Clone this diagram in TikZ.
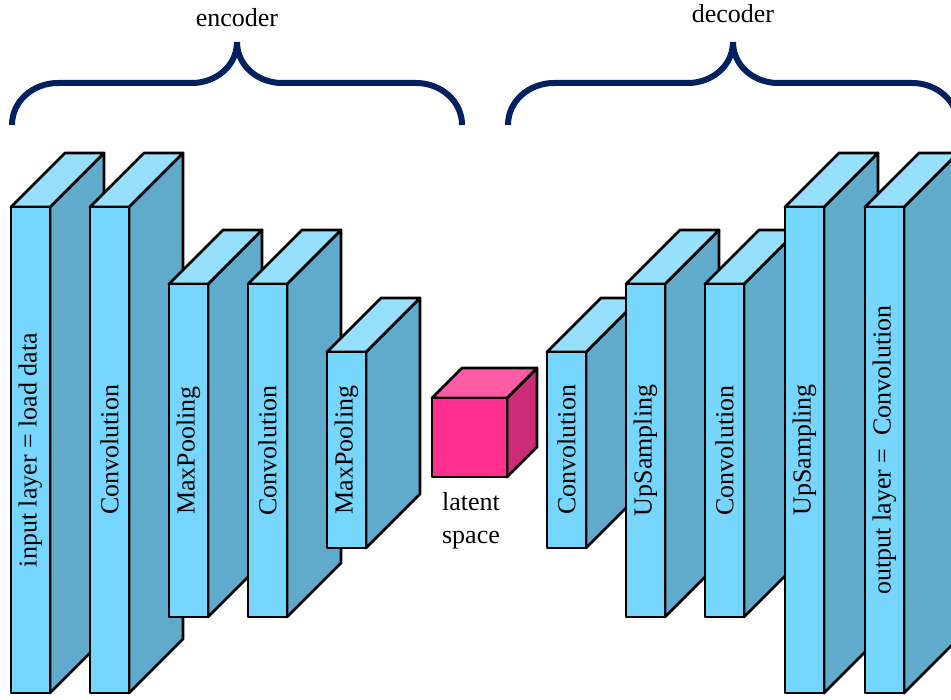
\documentclass[tikz,border=0pt]{standalone}
\usepackage{fontspec}
\setmainfont{Liberation Serif}

\definecolor{layerfront}{RGB}{118,214,253}
\definecolor{layertop}{RGB}{150,223,253}
\definecolor{layerside}{RGB}{96,170,204}
\definecolor{latentfront}{RGB}{255,48,144}
\definecolor{latenttop}{RGB}{255,92,168}
\definecolor{latentside}{RGB}{204,44,117}
\definecolor{bracecol}{RGB}{0,32,96}

\tikzstyle{face} = [draw=black, line width=2.8pt, line join=round]
\tikzstyle{brace} = [draw=bracecol, line width=6pt]
\tikzstyle{caption} = [font=\fontsize{26}{30}\selectfont, inner sep=0pt]
\tikzstyle{layertext} = [caption, rotate=90]

% one layer block: name, left x, bottom y, top y, label
\newcommand{\layerblock}[5]{
    \filldraw[face, fill=layerside] ({#2+39},#3) -- ({#2+39},#4)
        -- ({#2+93},{#4+54}) -- ({#2+93},{#3+54}) -- cycle;
    \filldraw[face, fill=layertop] (#2,#4) -- ({#2+54},{#4+54})
        -- ({#2+93},{#4+54}) -- ({#2+39},#4) -- cycle;
    \filldraw[face, fill=layerfront] (#2,#3) rectangle ({#2+39},#4);
    \node[layertext] (#1) at ({#2+19.5},{(#3+#4)/2}) {#5};
}

\begin{document}
\begin{tikzpicture}[x=1pt, y=1pt]
\clip (0,0) rectangle (951,700);

% encoder
\layerblock{in}{11}{7}{493}{input layer = load data}
\layerblock{conva}{90}{7}{493}{Convolution}
\layerblock{poola}{169}{83}{416}{MaxPooling}
\layerblock{convb}{248}{83}{416}{Convolution}
\layerblock{poolb}{327}{152}{348}{MaxPooling}

% latent space cube
\filldraw[face, fill=latentside] (507,223) -- (507,302) -- (537,332) -- (537,253) -- cycle;
\filldraw[face, fill=latenttop] (432,302) -- (462,332) -- (537,332) -- (507,302) -- cycle;
\filldraw[face, fill=latentfront] (432,223) rectangle (507,302);
\node[caption, align=center, anchor=north] (latent) at (471,208)
    {latent\\[3pt]space};

% decoder
\layerblock{convc}{547}{152}{348}{Convolution}
\layerblock{upa}{626}{83}{416}{UpSampling}
\layerblock{convd}{705}{83}{416}{Convolution}
\layerblock{upb}{785}{7}{493}{UpSampling}
\layerblock{out}{865}{7}{493}{output layer = \ Convolution}

% braces
\draw[brace] (12,575) to[out=90,in=180] (58,617) -- (192,617)
    to[out=0,in=-90] (237,658) to[out=-90,in=180] (282,617)
    -- (416,617) to[out=0,in=90] (462,575);
\node[caption, anchor=base] (enc) at (237,673) {encoder};

\draw[brace] (508,575) to[out=90,in=180] (554,617) -- (688,617)
    to[out=0,in=-90] (733,658) to[out=-90,in=180] (778,617)
    -- (912,617) to[out=0,in=90] (958,575);
\node[caption, anchor=base] (dec) at (733,677) {decoder};
\end{tikzpicture}
\end{document}
